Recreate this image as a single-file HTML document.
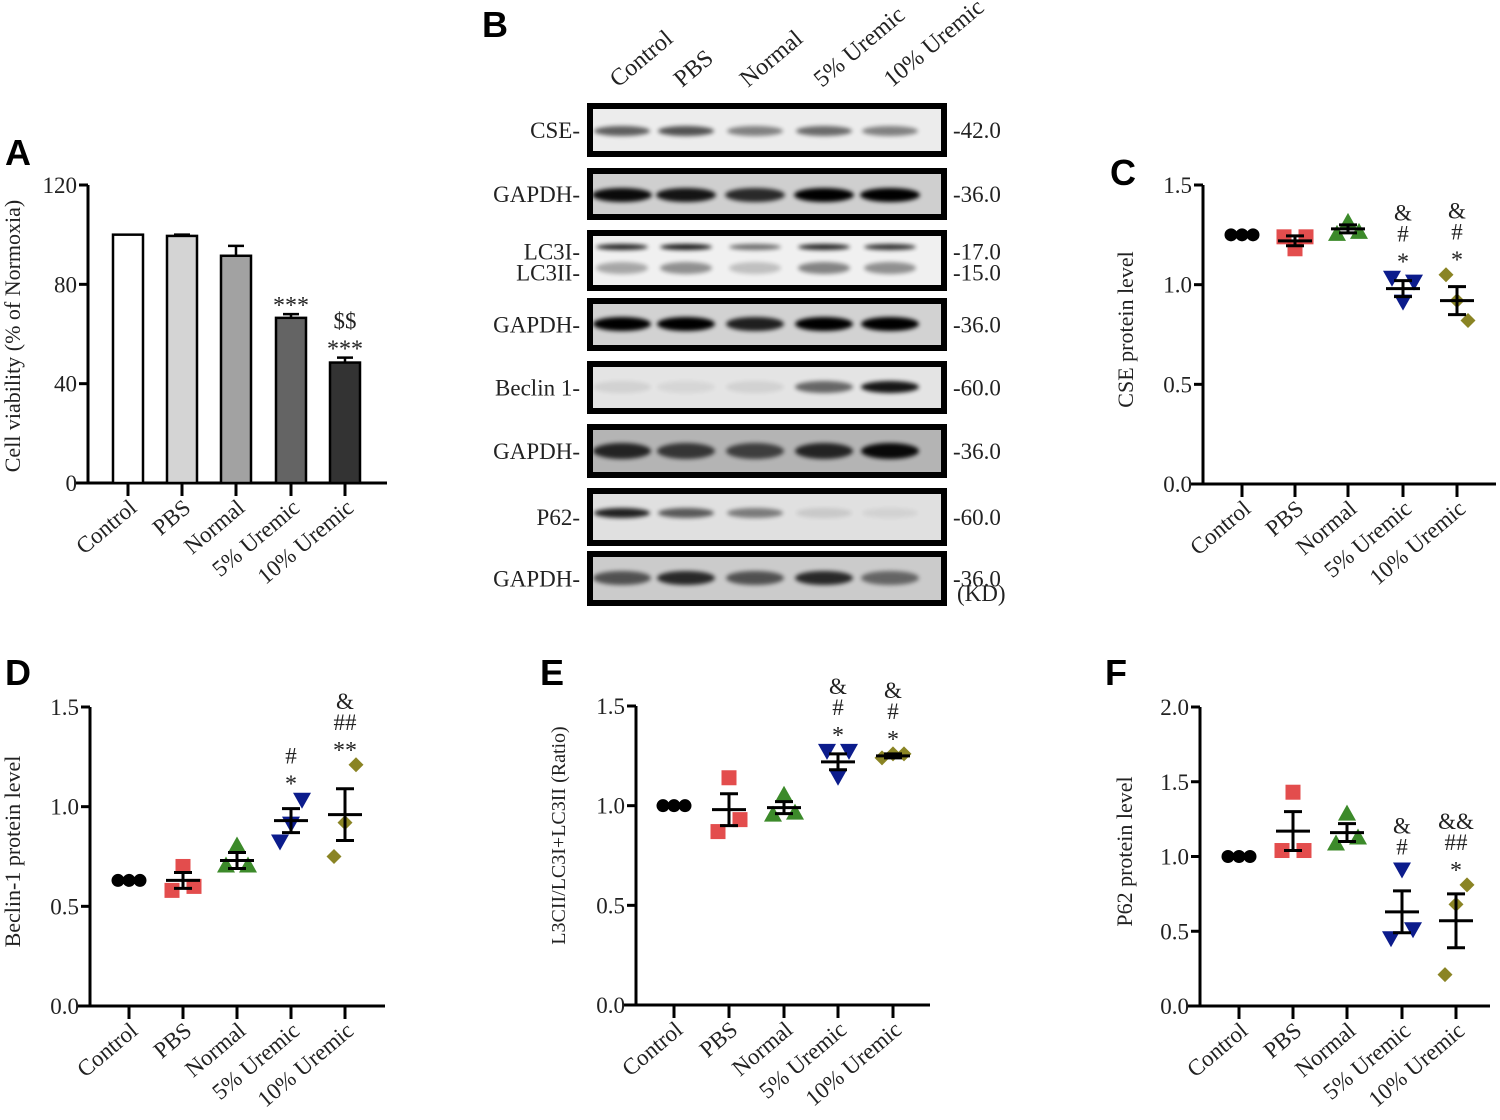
<!DOCTYPE html>
<html><head><meta charset="utf-8"><style>
html,body{margin:0;padding:0;background:#fff;}
svg{display:block;font-family:"Liberation Serif",serif;}
.tk{fill:#222;}
.pl{font-family:"Liberation Sans",sans-serif;font-weight:bold;font-size:36px;fill:#000;}
</style></head><body>
<svg id="fig" width="1500" height="1120" viewBox="0 0 1500 1120" xmlns="http://www.w3.org/2000/svg">
<defs><filter id="blur" x="-20%" y="-100%" width="140%" height="300%"><feGaussianBlur stdDeviation="2"/></filter></defs>
</svg>
<script>
const categories = ["Control","PBS","Normal","5% Uremic","10% Uremic"];
// Panel A
const aValues = [100, 99.5, 91.5, 66.5, 48.5];
const aErrors = [0, 0.5, 4, 1.5, 2];
const aTicks = [0, 40, 80, 120];
const aAnnot = [[],[],[],["***"],["***","$$"]];
// Panel C
const cPoints = [[1.25,1.25,1.25],[1.24,1.18,1.24],[1.25,1.31,1.26],[1.04,0.92,1.02],[1.05,0.92,0.82]];
const cMeans = [1.25,1.22,1.28,0.98,0.92];
const cSem = [0,0.025,0.02,0.04,0.07];
const cTicks = [0.0,0.5,1.0,1.5];
const cAnnot = [[],[],[],["*","#","&"],["*","#","&"]];
// Panel D
const dPoints = [[0.63,0.63,0.63],[0.58,0.70,0.60],[0.70,0.80,0.70],[0.83,0.92,1.04],[0.75,0.92,1.21]];
const dMeans = [0.63,0.63,0.73,0.93,0.96];
const dSem = [0,0.04,0.04,0.06,0.13];
const dTicks = [0.0,0.5,1.0,1.5];
const dAnnot = [[],[],[],["*","#"],["**","##","&"]];
// Panel E
const ePoints = [[1.0,1.0,1.0],[0.87,1.14,0.93],[0.95,1.05,0.96],[1.28,1.15,1.28],[1.24,1.26,1.26]];
const eMeans = [1.0,0.98,0.99,1.22,1.25];
const eSem = [0,0.08,0.03,0.04,0.01];
const eTicks = [0.0,0.5,1.0,1.5];
const eAnnot = [[],[],[],["*","#","&"],["*","#","&"]];
// Panel F
const fPoints = [[1.0,1.0,1.0],[1.04,1.43,1.04],[1.08,1.28,1.12],[0.46,0.92,0.52],[0.21,0.68,0.81]];
const fMeans = [1.0,1.17,1.16,0.63,0.57];
const fSem = [0,0.13,0.06,0.14,0.18];
const fTicks = [0.0,0.5,1.0,1.5,2.0];
const fAnnot = [[],[],[],["#","&"],["*","##","&&"]];
// Blot intensities per lane
const blotCSE = [0.6,0.65,0.45,0.55,0.45];
const blotGAPDH1 = [0.95,0.9,0.8,1,1];
const blotLC3I = [0.85,0.9,0.55,0.85,0.8];
const blotLC3II = [0.3,0.4,0.2,0.45,0.4];
const blotGAPDH2 = [1,1,0.85,1,1];
const blotBeclin = [0.08,0.06,0.08,0.55,0.9];
const blotGAPDH3 = [0.8,0.7,0.65,0.8,0.95];
const blotP62 = [0.85,0.6,0.45,0.1,0.06];
const blotGAPDH4 = [0.6,0.8,0.6,0.8,0.5];

const NS="http://www.w3.org/2000/svg";
const svg=document.getElementById('fig');
function el(tag,attrs,parent){const e=document.createElementNS(NS,tag);for(const k in attrs)e.setAttribute(k,attrs[k]);(parent||svg).appendChild(e);return e;}
function txt(s,attrs,parent,fs){const t=el('text',attrs,parent);t.style.fontSize=(fs||23)+'px';t.textContent=s;return t;}

function axes(g,cfg){
  const {ax,top,bot,right,max,ticks,cx,title,tx,fmt}=cfg;
  const y=v=>bot-v/max*(bot-top);
  const yl=el('line',{x1:ax,y1:top,x2:ax,y2:bot,stroke:'#000','stroke-width':3},g);
  
  
  const xl=el('line',{x1:ax-12,y1:bot,x2:right,y2:bot,stroke:'#000','stroke-width':3},g);
  
  
  ticks.forEach(t=>{
    el('line',{x1:ax-9,y1:y(t),x2:ax,y2:y(t),stroke:'#000','stroke-width':3},g);
    const l=txt(fmt(t),{x:ax-11,y:y(t)+8,'text-anchor':'end',class:'tk'},g,23);
    
    
  });
  categories.forEach((c,i)=>{
    el('line',{x1:cx[i],y1:bot,x2:cx[i],y2:bot+13,stroke:'#000','stroke-width':3},g);
    const l=txt(c,{x:cx[i]+10,y:bot+27,'text-anchor':'end',class:'tk',transform:`rotate(-40 ${cx[i]+10} ${bot+27})`},g,23);
    
    
  });
  const mid=(top+bot)/2+cfg.tyOff;
  const t=txt(title,{x:tx,y:mid,'text-anchor':'middle',class:'tk',transform:`rotate(-90 ${tx} ${mid})`},g,cfg.tsize||22);
  
  
  return y;
}
function annot(g,x,yTop,lines){
  lines.forEach((s,k)=>{
    const star=s.indexOf('*')>=0;
    const a=txt(s,{x:x,y:yTop-k*21+(star?7:0),'text-anchor':'middle',class:'tk'},g,star?24:23);
    
    
  });
}
const colors=['#000','#e03a3a','#3c8a2a','#0c1c8c','#8a8424'];
function marker(g,i,x,y){
  let m;
  if(i===0) m=el('circle',{cx:x,cy:y,r:6.5,fill:colors[0]},g);
  else if(i===1) m=el('rect',{x:x-7.5,y:y-7.5,width:15,height:15,fill:colors[1],opacity:0.9},g);
  else if(i===2) m=el('polygon',{points:`${x},${y-10} ${x-9},${y+6} ${x+9},${y+6}`,fill:colors[2]},g);
  else if(i===3) m=el('polygon',{points:`${x},${y+10} ${x-9},${y-6} ${x+9},${y-6}`,fill:colors[3]},g);
  else m=el('polygon',{points:`${x},${y-7.5} ${x+7.5},${y} ${x},${y+7.5} ${x-7.5},${y}`,fill:colors[4]},g);
  
  
}
function scatterPanel(name,cfg,points,means,sem,ann){
  const g=el('g',{});
  
  
  const y=axes(g,cfg);
  const offs=[-11,0,11];
  points.forEach((pts,i)=>{
    pts.forEach((v,k)=>marker(g,i,cfg.cx[i]+offs[k],y(v)));
    const mx=cfg.cx[i], m=means[i], s=sem[i];
    const ml=el('line',{x1:mx-17,y1:y(m),x2:mx+17,y2:y(m),stroke:'#000','stroke-width':3},g);
    
    
    if(s>0){
      const eb=el('path',{d:`M${mx},${y(m+s)}V${y(m-s)}M${mx-9},${y(m+s)}H${mx+9}M${mx-9},${y(m-s)}H${mx+9}`,stroke:'#000','stroke-width':3,fill:'none'},g);
      
      
    }
    if(ann[i].length){const top=Math.min(y(Math.max(...pts)),y(m+s));annot(g,mx,top-14,ann[i]);}
  });
}
// Panel letters
[['A',5,165],['B',482,37],['C',1110,185],['D',5,685],['E',540,685],['F',1105,685]].forEach(p=>{
  const t=txt(p[0],{x:p[1],y:p[2],class:'pl'},undefined,36);
  
  
});
// Panel A
(function(){
  const g=el('g',{});
  
  
  const cfg={ax:88,top:185,bot:483,right:387,max:120,ticks:aTicks,cx:[128,182,236,291,345],title:'Cell viability (% of Normoxia)',tx:20,tyOff:2,fmt:t=>String(t)};
  const y=axes(g,cfg);
  const fills=['#fff','#d4d4d4','#a2a2a2','#646464','#333'];
  aValues.forEach((v,i)=>{
    const x=cfg.cx[i];
    if(aErrors[i]>0){
      const e=el('path',{d:`M${x},${y(v)}V${y(v+aErrors[i])}M${x-8},${y(v+aErrors[i])}H${x+8}`,stroke:'#000','stroke-width':2.5},g);
      
      
    }
    const b=el('rect',{x:x-15,y:y(v),width:30,height:y(0)-y(v),fill:fills[i],stroke:'#000','stroke-width':2.5},g);
    
    
    if(aAnnot[i].length) annot(g,x,y(v+aErrors[i])-8,aAnnot[i]);
  });
})();
const f1=t=>t.toFixed(1);
scatterPanel('panel-c-cse',{ax:1203,top:185,bot:484,right:1496,max:1.5,ticks:cTicks,cx:[1242,1295,1348,1403,1457],title:'CSE protein level',tx:1133,tyOff:-5,fmt:f1},cPoints,cMeans,cSem,cAnnot);
scatterPanel('panel-d-beclin',{ax:90,top:707,bot:1006,right:385,max:1.5,ticks:dTicks,cx:[129,183,237,291,345],title:'Beclin-1 protein level',tx:20,tyOff:-5,fmt:f1},dPoints,dMeans,dSem,dAnnot);
scatterPanel('panel-e-lc3',{ax:636,top:706,bot:1005,right:930,max:1.5,ticks:eTicks,cx:[674,729,784,838,893],title:'L3CII/LC3I+LC3II (Ratio)',tx:565,tyOff:-20,tsize:20,fmt:f1},ePoints,eMeans,eSem,eAnnot);
scatterPanel('panel-f-p62',{ax:1200,top:707,bot:1006,right:1490,max:2.0,ticks:fTicks,cx:[1239,1293,1347,1402,1456],title:'P62 protein level',tx:1132,tyOff:-5,fmt:f1},fPoints,fMeans,fSem,fAnnot);

// Panel B: western blots
(function(){
  const g=el('g',{});
  
  
  const lanes=[622,686,755,824,890];
  const starts=[618,682,748,822,892];
  categories.forEach((c,i)=>{
    const t=txt(c,{x:starts[i],y:88,class:'tk',transform:`rotate(-40 ${starts[i]} 88)`},g,24);
    
    
  });
  const blots=[
    {n:'CSE-',k:'-42.0',y0:103,y1:157,bg:'#ececec',bands:[[blotCSE,131,5,56]]},
    {n:'GAPDH-',k:'-36.0',y0:168,y1:220,bg:'#cfcfcf',bands:[[blotGAPDH1,195,7,60]]},
    {n:'LC3I-\nLC3II-',k:'-17.0\n-15.0',y0:230,y1:291,bg:'#f0f0f0',bands:[[blotLC3I,247,3,52],[blotLC3II,268,6,52]]},
    {n:'GAPDH-',k:'-36.0',y0:298,y1:351,bg:'#d2d2d2',bands:[[blotGAPDH2,324,7,58]]},
    {n:'Beclin 1-',k:'-60.0',y0:361,y1:414,bg:'#e4e4e4',bands:[[blotBeclin,387,6,58]]},
    {n:'GAPDH-',k:'-36.0',y0:424,y1:478,bg:'#b4b4b4',bands:[[blotGAPDH3,451,8,58]]},
    {n:'P62-',k:'-60.0',y0:488,y1:546,bg:'#e0e0e0',bands:[[blotP62,513,5,56]]},
    {n:'GAPDH-',k:'-36.0',y0:551,y1:606,bg:'#cbcbcb',bands:[[blotGAPDH4,578,7,58]]}
  ];
  blots.forEach((b,bi)=>{
    const bg=el('g',{},g);
    
    
    el('rect',{x:587,y:b.y0,width:360,height:b.y1-b.y0,fill:'#000'},bg);
    el('rect',{x:593,y:b.y0+6,width:348,height:b.y1-b.y0-12,fill:b.bg},bg);
    b.bands.forEach(([arr,cy,h,w])=>{
      arr.forEach((v,i)=>{
        const e=el('ellipse',{cx:lanes[i],cy:cy,rx:w/2,ry:h,fill:'#000',opacity:v,filter:'url(#blur)'},bg);
        
        
      });
    });
    const mid=(b.y0+b.y1)/2;
    const names=b.n.split('\n'), kd=b.k.split('\n');
    names.forEach((s,k)=>{
      const yy=names.length>1?(k?mid+12:mid-9)+8:mid+8;
      const t=txt(s,{x:580,y:yy,'text-anchor':'end',class:'tk'},g,23);
      
      
    });
    kd.forEach((s,k)=>{
      const yy=kd.length>1?(k?mid+12:mid-9)+8:mid+8;
      const t=txt(s,{x:953,y:yy,class:'tk'},g,23);
      
      
    });
  });
  const kd=txt('(KD)',{x:957,y:601,class:'tk'},g,23);
  
  
})();
</script>
</body></html>
